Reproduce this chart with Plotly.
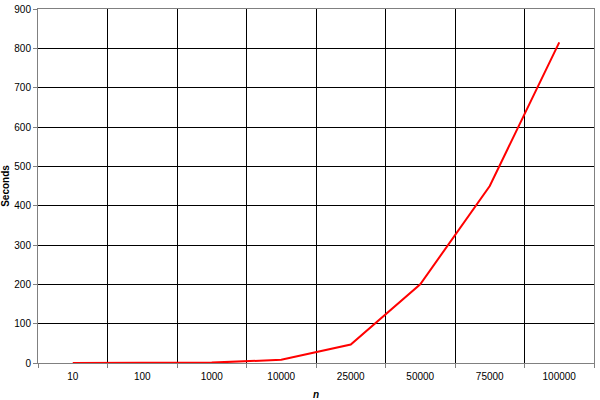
import plotly.graph_objects as go

# problem sizes (categorical x axis) and run time in seconds
n_labels = ["10", "100", "1000", "10000", "25000", "50000", "75000", "100000"]
seconds = [0, 0, 1, 8, 47, 200, 450, 815]
y_ticks = list(range(0, 1000, 100))

font = dict(family="Liberation Sans, Arial, sans-serif", size=10, color="black")

fig = go.Figure()
fig.add_trace(go.Scatter(x=n_labels, y=seconds, mode="lines",
                         line=dict(color="#ff0000", width=2)))

fig.update_layout(
    width=600, height=400,
    margin=dict(l=38, r=6, t=9, b=37),
    paper_bgcolor="white", plot_bgcolor="white",
    showlegend=False,
    font=font,
)
fig.update_xaxes(
    type="category", tickson="boundaries",
    range=[-0.5, len(n_labels) - 0.5],
    showgrid=True, gridcolor="#000000", gridwidth=1,
    showline=True, linecolor="#808080", linewidth=1, mirror=True,
    ticks="outside", ticklen=4, tickcolor="#808080",
    ticklabelstandoff=4,
    title=dict(text="<b><i>n</i></b>", standoff=9, font=dict(size=10)),
    tickfont=dict(size=10),
    automargin=False,
)
fig.update_yaxes(
    range=[0, 900], tickvals=y_ticks,
    showgrid=True, gridcolor="#000000", gridwidth=1,
    zeroline=False,
    showline=True, linecolor="#808080", linewidth=1, mirror=True,
    ticks="outside", ticklen=4, tickcolor="#808080",
    title=dict(text="<b>Seconds</b>", standoff=2, font=dict(size=10)),
    tickfont=dict(size=10),
    automargin=False,
)

# page has a default 8px body margin; drop it so the chart fills the window
fig.write_html("out.html", config={"displayModeBar": False},
               post_script="document.body.style.margin='0';")
